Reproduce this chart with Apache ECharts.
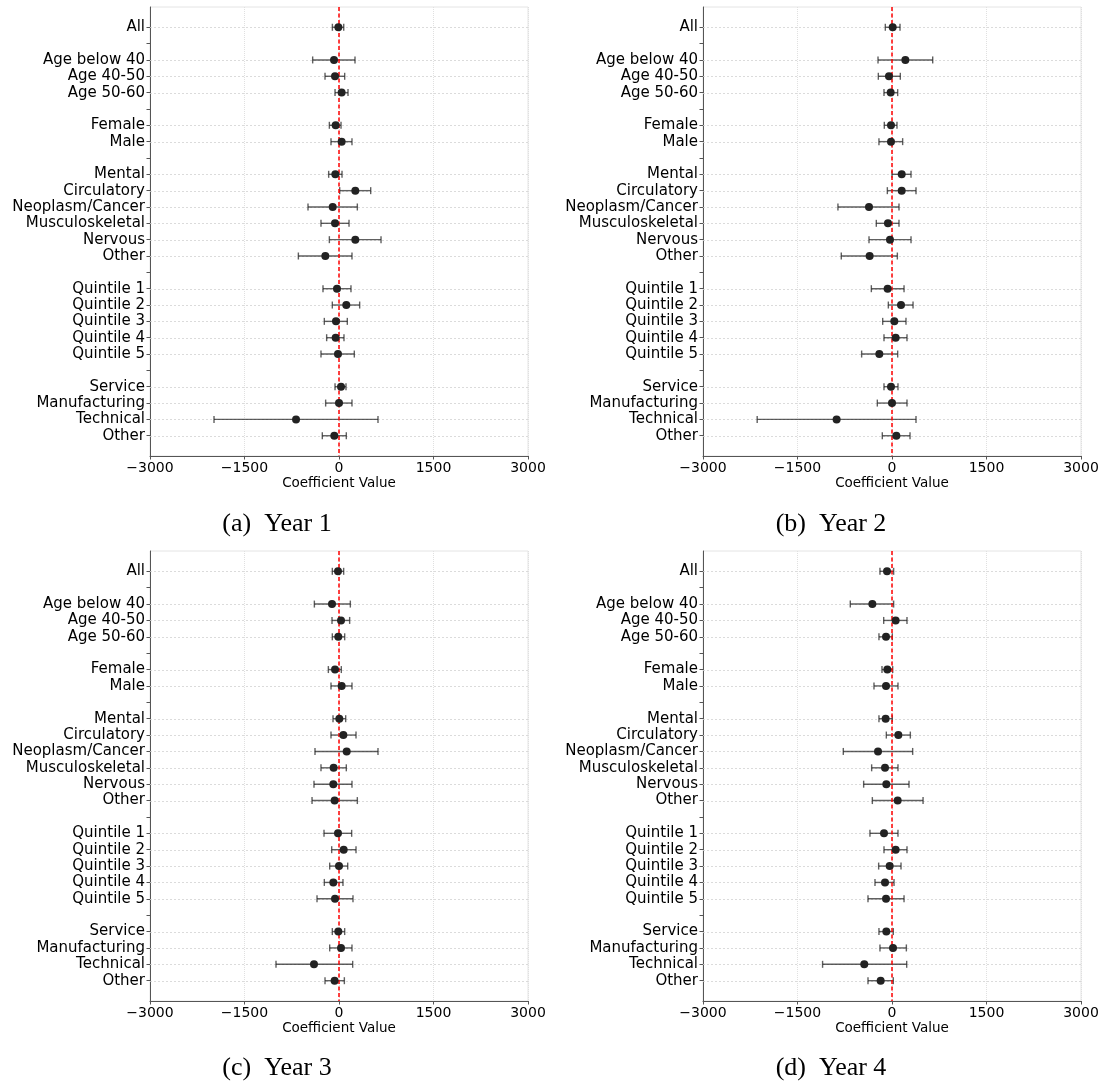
<!DOCTYPE html>
<html>
<head>
<meta charset="utf-8">
<script src="https://cdn.jsdelivr.net/npm/echarts@6/dist/echarts.min.js"></script>
<style>
  html, body { margin: 0; padding: 0; background: #fff; }
  #chart { width: 1105px; height: 1090px; }
</style>
</head>
<body>
<div id="chart"></div>
<script>
// Row labels, top to bottom; a blank slot separates each group
const categories = [
  'All',
  'Age below 40', 'Age 40-50', 'Age 50-60',
  'Female', 'Male',
  'Mental', 'Circulatory', 'Neoplasm/Cancer', 'Musculoskeletal', 'Nervous', 'Other',
  'Quintile 1', 'Quintile 2', 'Quintile 3', 'Quintile 4', 'Quintile 5',
  'Service', 'Manufacturing', 'Technical', 'Other'
];
const groupSizes = [1, 3, 2, 6, 5, 4];
const xTicks = [-3000, -1500, 0, 1500, 3000];
const panelCaptions = ['(a)\u2002Year 1', '(b)\u2002Year 2', '(c)\u2002Year 3', '(d)\u2002Year 4'];

// Year 1: point estimate and 95% interval bounds
const year1Coef = [-10, -79, -63, 42, -53, 42, -58, 259, -100, -63, 259, -217, -32, 116, -48, -53, -16, 32, 0, -682, -74];
const year1Low  = [-105, -418, -222, -63, -153, -127, -164, 11, -492, -286, -153, -645, -254, -106, -233, -196, -286, -63, -212, -1984, -265];
const year1High = [75, 254, 90, 143, 32, 206, 48, 503, 291, 159, 667, 206, 190, 328, 132, 79, 243, 111, 206, 619, 116];

// Year 2
const year2Coef = [11, 212, -48, -21, -16, -16, 154, 154, -365, -64, -32, -355, -69, 143, 37, 58, -201, -16, 0, -879, 69];
const year2Low  = [-106, -222, -217, -127, -122, -207, 0, -74, -858, -249, -365, -805, -328, -58, -148, -127, -482, -127, -233, -2140, -154];
const year2High = [127, 646, 132, 90, 79, 169, 302, 381, 111, 111, 302, 85, 191, 334, 222, 238, 90, 95, 238, 381, 286];

// Year 3
const year3Coef = [-16, -111, 32, -11, -63, 42, 5, 69, 122, -85, -90, -69, -16, 74, 0, -90, -63, -11, 32, -397, -69];
const year3Low  = [-106, -391, -111, -106, -169, -127, -95, -127, -381, -286, -397, -428, -238, -116, -148, -233, -349, -106, -148, -1000, -222];
const year3High = [74, 180, 169, 90, 37, 206, 106, 270, 619, 116, 206, 291, 201, 270, 138, 63, 222, 90, 206, 217, 85];

// Year 4
const year4Coef = [-79, -312, 58, -95, -74, -95, -101, 101, -222, -111, -90, 90, -127, 58, -37, -111, -95, -90, 16, -440, -180];
const year4Low  = [-191, -662, -132, -207, -159, -286, -207, -90, -773, -323, -450, -312, -350, -127, -212, -270, -381, -207, -191, -1102, -381];
const year4High = [26, 26, 238, 5, 11, 95, 5, 291, 328, 95, 270, 493, 95, 238, 143, 32, 191, 21, 228, 233, 21];

const panels = [
  { coef: year1Coef, low: year1Low, high: year1High },
  { coef: year2Coef, low: year2Low, high: year2High },
  { coef: year3Coef, low: year3Low, high: year3High },
  { coef: year4Coef, low: year4Low, high: year4High }
];

// Slot index of each row (groups separated by an empty slot)
const rowSlots = [];
let slot = 0;
groupSizes.forEach(n => {
  for (let i = 0; i < n; i++) rowSlots.push(slot++);
  slot++;
});
const lastSlot = rowSlots[rowSlots.length - 1];
const allSlots = [];
for (let s = 0; s <= lastSlot; s++) allSlots.push(s);
const labelBySlot = {};
rowSlots.forEach((s, i) => { labelBySlot[s] = categories[i]; });

const Y_PAD = 1.24;
const yMin = -Y_PAD, yMax = lastSlot + Y_PAD;

const FONT = 'DejaVu Sans';
const gridBoxes = [
  { left: 150, top: 7, width: 378, height: 449 },
  { left: 703, top: 7, width: 378, height: 449 },
  { left: 150, top: 551, width: 378, height: 450 },
  { left: 703, top: 551, width: 378, height: 450 }
];
const captionPos = [[277, 524], [831, 524], [277, 1068], [831, 1068]];

const grids = [], xAxes = [], yAxes = [], series = [];

gridBoxes.forEach((box, i) => {
  grids.push(Object.assign({
    show: true, borderColor: '#e4e4e4', borderWidth: 1, backgroundColor: 'transparent'
  }, box));

  xAxes.push({
    gridIndex: i, type: 'value', min: xTicks[0], max: xTicks[xTicks.length - 1],
    interval: xTicks[1] - xTicks[0],
    name: 'Coefficient Value', nameLocation: 'middle', nameGap: 20,
    nameTextStyle: { fontFamily: FONT, fontSize: 13.5, color: '#000' },
    axisLine: { show: true, onZero: false, lineStyle: { color: '#555', width: 1 } },
    axisTick: { show: true, length: 3.5, lineStyle: { color: '#555' } },
    axisLabel: {
      margin: 5, fontFamily: FONT, fontSize: 14, color: '#000',
      formatter: v => (v < 0 ? '\u2212' + Math.abs(v) : String(v))
    },
    splitLine: { show: true, lineStyle: { color: '#e0e0e0', width: 1, type: 'dotted' } }
  });

  yAxes.push({
    gridIndex: i, type: 'value', inverse: true, min: yMin, max: yMax,
    axisLine: { show: true, onZero: false, lineStyle: { color: '#555', width: 1 } },
    axisTick: { show: true, customValues: allSlots, length: 3.5, lineStyle: { color: '#555' } },
    axisLabel: {
      customValues: rowSlots, margin: 5, fontFamily: FONT, fontSize: 15, color: '#000',
      formatter: v => labelBySlot[Math.round(v)] || ''
    },
    splitLine: { show: false }
  });

  const p = panels[i];
  const barData = rowSlots.map((s, k) => [p.low[k], p.high[k], s]);
  const dotData = rowSlots.map((s, k) => [p.coef[k], s]);

  // row guide line plus interval bar with caps
  series.push({
    type: 'custom', xAxisIndex: i, yAxisIndex: i, z: 2, silent: true,
    encode: { x: [0, 1], y: 2 },
    data: barData,
    renderItem: (params, api) => {
      const cs = params.coordSys;
      const a = api.coord([api.value(0), api.value(2)]);
      const b = api.coord([api.value(1), api.value(2)]);
      const cap = 3.5;
      const style = { stroke: 'rgba(35,35,35,0.72)', lineWidth: 1.4 };
      const y = Math.round(a[1]) + 0.5;
      return {
        type: 'group',
        children: [
          { type: 'line', shape: { x1: cs.x, y1: y, x2: cs.x + cs.width, y2: y },
            style: { stroke: '#d2d2d2', lineWidth: 0.8, lineDash: [2, 2] } },
          { type: 'line', shape: { x1: a[0], y1: a[1], x2: b[0], y2: b[1] }, style },
          { type: 'line', shape: { x1: a[0], y1: a[1] - cap, x2: a[0], y2: a[1] + cap }, style },
          { type: 'line', shape: { x1: b[0], y1: b[1] - cap, x2: b[0], y2: b[1] + cap }, style }
        ]
      };
    }
  });

  // zero reference line
  series.push({
    type: 'line', xAxisIndex: i, yAxisIndex: i, z: 3, silent: true,
    data: [[0, yMin], [0, yMax]], showSymbol: false, symbol: 'none',
    lineStyle: { color: '#ff0000', width: 1.5, type: [4, 2.5] }
  });

  // point estimates
  series.push({
    type: 'scatter', xAxisIndex: i, yAxisIndex: i, z: 4, silent: true,
    symbol: 'circle', symbolSize: 8,
    itemStyle: { color: '#222', opacity: 1 },
    data: dotData
  });
});

const chart = echarts.init(document.getElementById('chart'), null, { renderer: 'canvas' });
chart.setOption({
  animation: false,
  backgroundColor: '#fff',
  grid: grids,
  xAxis: xAxes,
  yAxis: yAxes,
  series: series,
  graphic: panelCaptions.map((t, i) => ({
    type: 'text', x: captionPos[i][0], y: captionPos[i][1],
    style: {
      text: t, fontFamily: 'Liberation Serif', fontSize: 26, fill: '#000',
      textAlign: 'center', textVerticalAlign: 'middle'
    }
  }))
});
</script>
</body>
</html>
